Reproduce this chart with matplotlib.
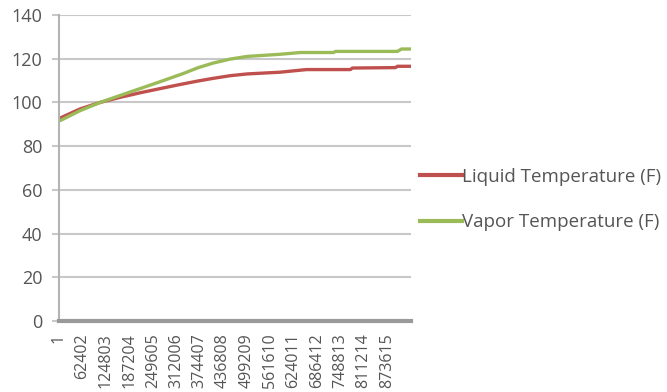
import numpy as np
import matplotlib
matplotlib.use("Agg")
from matplotlib import pyplot as plt

# sample index vs. temperature (F)
liquid_idx = [0, 56000, 110000, 165000, 219000, 275000, 323000, 371000,
              411000, 456000, 501000, 589000, 659000, 776000, 781000,
              896000, 901000, 936000]
liquid_temp = [92.6, 97.0, 100.0, 102.4, 104.5, 106.5, 108.2, 109.8,
               111.0, 112.2, 113.0, 113.8, 115.0, 115.0, 115.7,
               115.9, 116.5, 116.5]

vapor_idx = [0, 56000, 110000, 165000, 221000, 275000, 331000, 371000,
             411000, 456000, 501000, 589000, 643000, 731000, 736000,
             901000, 912000, 936000]
vapor_temp = [91.4, 96.2, 100.0, 103.3, 106.6, 109.8, 113.2, 115.9,
              118.0, 119.8, 121.0, 122.0, 122.8, 122.8, 123.3,
              123.3, 124.4, 124.4]

tick_step = 62401
tick_pos = [1 + tick_step * k for k in range(15)]
tick_labels = [str(p) for p in tick_pos]
y_ticks = [0, 20, 40, 60, 80, 100, 120, 140]

grey = "#555555"
plt.rcParams["font.family"] = ["Open Sans", "DejaVu Sans"]

fig = plt.figure(figsize=(6.67, 3.92), dpi=100)
ax = fig.add_axes([0.0885, 0.181, 0.527, 0.781])

ax.plot(liquid_idx, liquid_temp, color="#c0504d", lw=2.4, label="Liquid Temperature (F)")
ax.plot(vapor_idx, vapor_temp, color="#9bbb59", lw=2.4, label="Vapor Temperature (F)")

ax.set_xlim(0, 936000)
ax.set_ylim(0, 140)
ax.set_yticks(y_ticks)
ax.set_xticks(tick_pos)
ax.set_xticklabels(tick_labels, rotation=90, va="top", ha="center")

ax.yaxis.grid(True, color="#c8c8c8", lw=1.5)
ax.set_axisbelow(True)
for side in ("top", "right"):
    ax.spines[side].set_visible(False)
ax.spines["left"].set_color("#b4b4b4")
ax.spines["left"].set_linewidth(1.5)
ax.spines["bottom"].set_color("#9a9a9a")
ax.spines["bottom"].set_linewidth(3)

ax.tick_params(axis="y", length=5, width=1.5, color="#c8c8c8", pad=7,
               labelsize=13, labelcolor=grey)
ax.tick_params(axis="x", length=0, pad=9, labelsize=11.5, labelcolor=grey)

leg = ax.legend(loc="center left", bbox_to_anchor=(0.98, 0.397), frameon=False,
                fontsize=13.5, handlelength=2.2, handletextpad=0.0,
                labelspacing=1.45)
for line in leg.get_lines():
    line.set_linewidth(3)
for t in leg.get_texts():
    t.set_color(grey)

fig.savefig("out.png", dpi=100)
